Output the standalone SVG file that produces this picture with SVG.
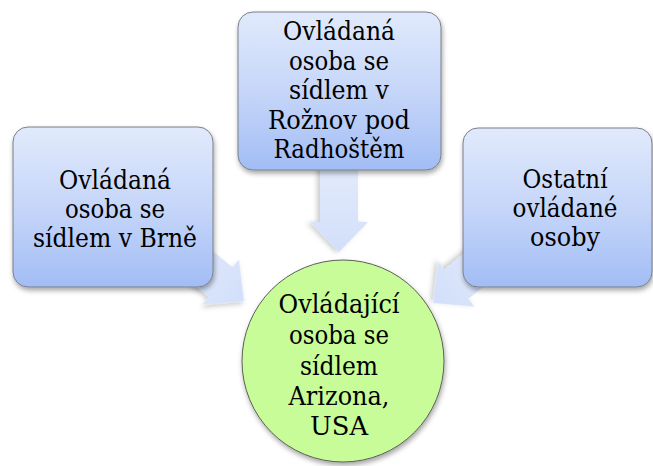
<svg xmlns="http://www.w3.org/2000/svg" width="653" height="466" viewBox="0 0 653 466">
<defs>
<linearGradient id="boxGrad" x1="0" y1="0" x2="0" y2="1">
<stop offset="0" stop-color="#e1eafc"/>
<stop offset="0.5" stop-color="#c6d6f9"/>
<stop offset="1" stop-color="#a2bdf5"/>
</linearGradient>
<linearGradient id="arrowGrad" x1="0" y1="0" x2="1" y2="0">
<stop offset="0" stop-color="#e4ecfc"/>
<stop offset="1" stop-color="#d2dffa"/>
</linearGradient>
<filter id="shadow" x="-20%" y="-20%" width="140%" height="140%">
<feDropShadow dx="1" dy="3" stdDeviation="2.5" flood-color="#000" flood-opacity="0.35"/>
</filter>
<filter id="ashadow" x="-20%" y="-20%" width="140%" height="140%">
<feDropShadow dx="1" dy="3" stdDeviation="2.5" flood-color="#000" flood-opacity="0.2"/>
</filter>
<polygon id="arrowShape" points="0,0 -30,-29 -30,-19 -95,-19 -95,19 -30,19 -30,29"/>
</defs>
<style>
.box{fill:url(#boxGrad);stroke:#7a7f8a;stroke-width:1;filter:url(#shadow);}
.circle{fill:#c8fc98;stroke:#5a5f55;stroke-width:1;filter:url(#shadow);}
.arrow{fill:url(#arrowGrad);filter:url(#ashadow);}
.t{font-family:'DejaVu Serif','Noto Serif',serif;font-size:26px;fill:#000;text-anchor:middle;}
</style>
<rect width="653" height="466" fill="#ffffff"/>
<g id="connectors">
<use href="#arrowShape" class="arrow" transform="translate(339,252) rotate(90)"/>
<use href="#arrowShape" class="arrow" transform="translate(244,301) rotate(39)"/>
<use href="#arrowShape" class="arrow" transform="translate(433,303) rotate(141)"/>
</g>
<g id="node-left">
<rect class="box" x="13" y="127" width="200" height="160" rx="15" ry="15"/>
<g class="t">
<text x="115" y="189" textLength="112" lengthAdjust="spacingAndGlyphs">Ovládaná</text>
<text x="115" y="218" textLength="100" lengthAdjust="spacingAndGlyphs">osoba se</text>
<text x="115" y="247" textLength="164" lengthAdjust="spacingAndGlyphs">sídlem v Brně</text>
</g>
</g>
<g id="node-top">
<rect class="box" x="238" y="12" width="203" height="158" rx="15" ry="15"/>
<g class="t">
<text x="339" y="40" textLength="112" lengthAdjust="spacingAndGlyphs">Ovládaná</text>
<text x="339" y="69.5" textLength="100" lengthAdjust="spacingAndGlyphs">osoba se</text>
<text x="339" y="99" textLength="100" lengthAdjust="spacingAndGlyphs">sídlem v</text>
<text x="339" y="128.5" textLength="142" lengthAdjust="spacingAndGlyphs">Rožnov pod</text>
<text x="339" y="158" textLength="131" lengthAdjust="spacingAndGlyphs">Radhoštěm</text>
</g>
</g>
<g id="node-right">
<rect class="box" x="463" y="128" width="189" height="159" rx="15" ry="15"/>
<g class="t">
<text x="565" y="188" textLength="85" lengthAdjust="spacingAndGlyphs">Ostatní</text>
<text x="565" y="217" textLength="105" lengthAdjust="spacingAndGlyphs">ovládané</text>
<text x="565" y="246" textLength="70" lengthAdjust="spacingAndGlyphs">osoby</text>
</g>
</g>
<g id="node-center">
<circle class="circle" cx="343" cy="361" r="101"/>
<g class="t">
<text x="339" y="313" textLength="121" lengthAdjust="spacingAndGlyphs">Ovládající</text>
<text x="339" y="344" textLength="100" lengthAdjust="spacingAndGlyphs">osoba se</text>
<text x="339" y="375" textLength="78" lengthAdjust="spacingAndGlyphs">sídlem</text>
<text x="339" y="405" textLength="101" lengthAdjust="spacingAndGlyphs">Arizona,</text>
<text x="339" y="435" textLength="58" lengthAdjust="spacingAndGlyphs">USA</text>
</g>
</g>
</svg>
